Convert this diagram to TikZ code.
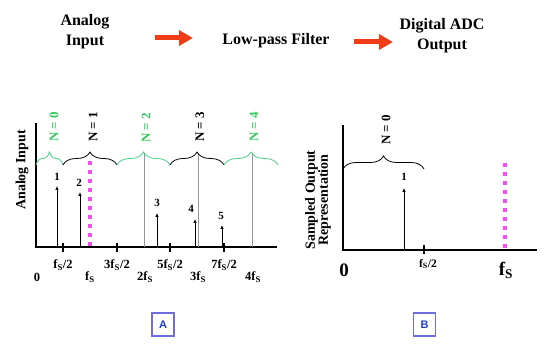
\documentclass[tikz,border=0pt]{standalone}
\usepackage{fontspec}
\setmainfont{Liberation Serif}
\newfontfamily\boxfont{Liberation Sans}
\usetikzlibrary{arrows.meta,decorations.pathreplacing}
\definecolor{redarr}{RGB}{240,60,20}
\definecolor{ngreen}{RGB}{70,205,130}
\definecolor{ntext}{RGB}{50,200,90}
\definecolor{mag}{RGB}{240,80,240}
\definecolor{boxblue}{RGB}{110,110,225}
\definecolor{txtblue}{RGB}{30,60,210}
\definecolor{gline}{RGB}{150,150,150}
\newcommand\fsub{f\textsubscript{S}}
\begin{document}
\begin{tikzpicture}[x=1pt,y=-1pt,
  title/.style={font=\fontsize{16}{20}\selectfont\bfseries, align=center, inner sep=0pt},
  flow/.style={redarr, line width=5pt, -{Triangle[length=14pt,width=15pt]}},
  axis/.style={line width=1.5pt},
  tickmark/.style={line width=1.5pt},
  grayline/.style={gline, line width=0.9pt},
  magline/.style={mag, line width=4.5pt, dash pattern=on 4.5pt off 4.5pt},
  bracegrp/.style={decorate, decoration={brace, amplitude=13pt}, line width=0.8pt},
  nlab/.style={rotate=90, font=\fontsize{13}{15}\selectfont\bfseries, inner sep=0pt},
  ylab/.style={rotate=90, font=\fontsize{14}{13}\selectfont\bfseries, align=center, inner sep=0pt},
  xlab/.style={font=\fontsize{12.5}{14}\selectfont\bfseries, inner sep=0pt},
  numlab/.style={font=\fontsize{11}{13}\selectfont\bfseries, inner sep=0pt},
  spike/.style={line width=0.7pt, -{Latex[length=4pt,width=3.5pt]}},
  bigx/.style={font=\fontsize{19}{21}\selectfont\bfseries, inner sep=0pt},
  panelbox/.style={draw=boxblue, line width=1.2pt, minimum width=22pt, minimum height=23pt, inner sep=0pt, text=txtblue, font=\boxfont\fontsize{11}{13}\selectfont\bfseries}
]
\useasboundingbox (0,0) rectangle (550,358);

% ---- titles ----
\node[title] (tin) at (85,32) {Analog\\Input};
\node[title] (tlp) at (276,41) {Low-pass Filter};
\node[title] (tout) at (442,36) {Digital ADC\\Output};
\coordinate (a1s) at (155,38);
\coordinate (a1e) at (193,38);
\coordinate (a2s) at (354,42);
\coordinate (a2e) at (393,42);
\draw[flow] (a1s) -- (a1e);
\draw[flow] (a2s) -- (a2e);

% ---- left panel ----
\coordinate (lo) at (36,247);
\coordinate (ltop) at (36,123);
\coordinate (lend) at (277,247);
\draw[axis] (ltop) -- (lo) -- (lend);

% gray lines at 2fs, 3fs, 4fs
\foreach \x/\n in {144/g2,198/g3,252/g4}{
  \coordinate (\n t) at (\x,153);
  \coordinate (\n b) at (\x,247);
  \draw[grayline] (\n t) -- (\n b);
}
% magenta fs
\coordinate (lmt) at (90,161);
\coordinate (lmb) at (90,250);
\draw[magline] (lmt) -- (lmb);

% ticks
\foreach \x/\n in {63/t1,117/t3,170/t5,224/t7}{
  \coordinate (\n a) at (\x,243);
  \coordinate (\n b) at (\x,252);
  \draw[tickmark] (\n a) -- (\n b);
}

% braces
\coordinate (b0) at (36,165);
\coordinate (b1) at (63,165);
\coordinate (b2) at (117,165);
\coordinate (b3) at (170,165);
\coordinate (b4) at (224,165);
\coordinate (b5) at (278,165);
\draw[bracegrp, ngreen] (b0) -- (b1);
\draw[bracegrp, black] (b1) -- (b2);
\draw[bracegrp, ngreen] (b2) -- (b3);
\draw[bracegrp, black] (b3) -- (b4);
\draw[bracegrp, ngreen] (b4) -- (b5);

\node[nlab, text=ntext] (n0) at (54,127) {N = 0};
\node[nlab] (n1) at (93,127) {N = 1};
\node[nlab, text=ntext] (n2) at (146,128) {N = 2};
\node[nlab] (n3) at (200,127) {N = 3};
\node[nlab, text=ntext] (n4) at (254,127) {N = 4};

% spikes
\foreach \x/\y/\lx/\ly/\t in {57/186/57/177/1, 80/192/79/183/2, 157/213/157/203/3, 195/219/191/209/4, 222/225/221/216/5}{
  \coordinate (s\t b) at (\x,247);
  \coordinate (s\t t) at (\x,\y);
  \draw[spike] (s\t b) -- (s\t t);
  \node[numlab] (l\t) at (\lx,\ly) {\t};
}

\node[ylab] (ylL) at (22,170) {Analog Input};

% x labels
\node[xlab] (x1) at (63,265) {\fsub/2};
\node[xlab] (x3) at (117,265) {3\fsub/2};
\node[xlab] (x5) at (170,265) {5\fsub/2};
\node[xlab] (x7) at (224,265) {7\fsub/2};
\node[xlab] (x0) at (37,277) {0};
\node[xlab] (xf1) at (90,277) {\fsub};
\node[xlab] (xf2) at (145,277) {2\fsub};
\node[xlab] (xf3) at (198,277) {3\fsub};
\node[xlab] (xf4) at (253,277) {4\fsub};

% ---- right panel ----
\coordinate (ro) at (343,250);
\coordinate (rtop) at (343,125);
\coordinate (rend) at (537,250);
\draw[axis] (rtop) -- (ro) -- (rend);
\coordinate (rta) at (424,245);
\coordinate (rtb) at (424,254);
\draw[tickmark] (rta) -- (rtb);
\coordinate (rb0) at (343,169);
\coordinate (rb1) at (424,169);
\draw[bracegrp, black] (rb0) -- (rb1);
\node[nlab] (rn0) at (386,130) {N = 0};
\coordinate (rsb) at (404,250);
\coordinate (rst) at (404,188);
\draw[spike] (rsb) -- (rst);
\node[numlab] (rl1) at (404,177) {1};
\coordinate (rmt) at (505,163);
\coordinate (rmb) at (505,252);
\draw[magline] (rmt) -- (rmb);
\node[ylab] (ylR) at (318,200) {Sampled Output\\Representation};
\node[bigx] (r0) at (344,270) {0};
\node[xlab, font=\fontsize{11.5}{13}\selectfont\bfseries] (rfh) at (428,264) {\fsub/2};
\node[bigx] (rfs) at (506,270) {\fsub};

% ---- panel boxes ----
\node[panelbox] (pa) at (163,324.5) {A};
\node[panelbox] (pb) at (424.5,324.5) {B};
\end{tikzpicture}
\end{document}
